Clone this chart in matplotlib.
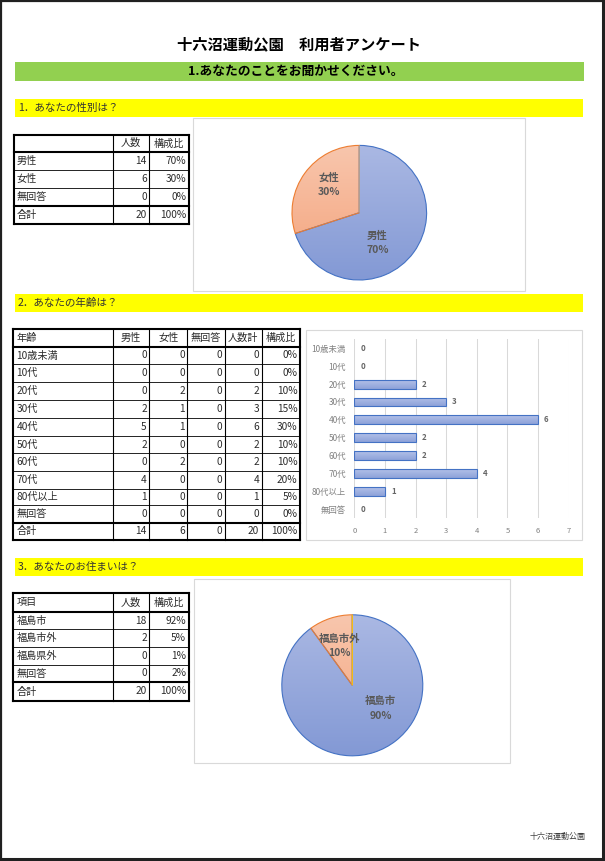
import numpy as np
import matplotlib
matplotlib.use('Agg')
import matplotlib.pyplot as plt
from matplotlib.patches import Rectangle
from matplotlib.colors import to_rgb

plt.rcParams['font.family'] = ['Noto Sans CJK JP', 'DejaVu Sans']

# ---- data ----
title = '十六沼運動公園　利用者アンケート'
section = '1.あなたのことをお聞かせください。'
q1 = '1．あなたの性別は？'
q2 = '2．あなたの年齢は？'
q3 = '3．あなたのお住まいは？'
footer = '十六沼運動公園'

gender_labels = ['男性', '女性', '無回答']
gender_counts = [14, 6, 0]
gender_ratio = ['70%', '30%', '0%']
gender_total = [20, '100%']

age_labels = ['10歳未満', '10代', '20代', '30代', '40代', '50代', '60代', '70代', '80代以上', '無回答']
age_male = [0, 0, 0, 2, 5, 2, 0, 4, 1, 0]
age_female = [0, 0, 2, 1, 1, 0, 2, 0, 0, 0]
age_noans = [0, 0, 0, 0, 0, 0, 0, 0, 0, 0]
age_total = [0, 0, 2, 3, 6, 2, 2, 4, 1, 0]
age_ratio = ['0%', '0%', '10%', '15%', '30%', '10%', '10%', '20%', '5%', '0%']
age_sum = [14, 6, 0, 20, '100%']

home_labels = ['福島市', '福島市外', '福島県外', '無回答']
home_counts = [18, 2, 0, 0]
home_ratio = ['92%', '5%', '1%', '2%']
home_total = [20, '100%']

W, H = 605, 861
TXT = '#2b2b2b'
GRAY_BOX = '#D9D9D9'
BLUE = ('#AAB8E3', '#8399D5', '#4472C4')
ORANGE = ('#F8C6AD', '#F4A27A', '#ED7D31')
GREY = ('#C8C8C8', '#A5A5A5', '#A5A5A5')
GOLD = ('#FFD966', '#FFC000', '#FFC000')

fig = plt.figure(figsize=(W / 100, H / 100), dpi=100)
bg = fig.add_axes([0, 0, 1, 1])
bg.set_xlim(0, W)
bg.set_ylim(H, 0)
bg.axis('off')


def px_axes(x0, y0, x1, y1):
    return fig.add_axes([x0 / W, 1 - y1 / H, (x1 - x0) / W, (y1 - y0) / H])


def vgrad(c_top, c_bot, n=64):
    t = np.linspace(0, 1, n)[:, None]
    a = np.array(to_rgb(c_top))
    b = np.array(to_rgb(c_bot))
    return (a * (1 - t) + b * t)[:, None, :]


def draw_table(xs, ys, rows, head_align, body_align):
    n = len(ys)
    for k, y in enumerate(ys):
        lw = 1.5 if k in (0, 1, n - 2, n - 1) else 0.6
        bg.plot([xs[0], xs[-1]], [y, y], color='black', lw=lw, solid_capstyle='projecting')
    for k, x in enumerate(xs):
        lw = 1.5 if k in (0, len(xs) - 1) else 0.8
        bg.plot([x, x], [ys[0], ys[-1]], color='black', lw=lw, solid_capstyle='projecting')
    for r, row in enumerate(rows):
        yc = (ys[r] + ys[r + 1]) / 2
        aligns = head_align if r == 0 else body_align
        for c, txt in enumerate(row):
            al = aligns[c]
            if al == 'left':
                x = xs[c] + 3
            elif al == 'right':
                x = xs[c + 1] - 2.5
            else:
                x = (xs[c] + xs[c + 1]) / 2
            bg.text(x, yc, str(txt), ha=al, va='center', fontsize=7.3, color=TXT)


def draw_pie(cx, cy, r, counts, styles, labels, label_pos):
    k = 1.03
    pax = px_axes(cx - r * k, cy - r * k, cx + r * k, cy + r * k)
    wedges, _ = pax.pie(counts, startangle=90, counterclock=False, radius=1,
                        wedgeprops=dict(linewidth=0.8))
    for w, (ct, cb, ec) in zip(wedges, styles):
        w.set_facecolor('none')
        w.set_edgecolor(ec)
        im = pax.imshow(vgrad(ct, cb), extent=(-1, 1, -1, 1), aspect='auto',
                        zorder=0.5, interpolation='bilinear')
        im.set_clip_path(w)
    total = sum(counts)
    for name, cnt, pos in zip(labels, counts, label_pos):
        if cnt == 0:
            continue
        pax.text(pos[0], pos[1], f'{name}\n{round(cnt / total * 100)}%', ha='center', va='center',
                 fontsize=7.5, color='#595959', fontweight='bold', linespacing=1.55)
    pax.set_xlim(-k, k)
    pax.set_ylim(-k, k)
    pax.set_aspect('equal')
    pax.axis('off')


# ---- page frame ----
bg.plot([1, 1], [0, H], color='#202020', lw=1.6)
bg.plot([0, W], [1, 1], color='#202020', lw=1.6)
bg.plot([603, 603], [0, H], color='#202020', lw=2.2)
bg.plot([0, W], [859, 859], color='#202020', lw=2.2)

# ---- headings ----
bg.text(299, 44.5, title, ha='center', va='center', fontsize=11, fontweight='bold', color='black')
bg.add_patch(Rectangle((15, 62), 569, 19, color='#92D050', lw=0))
bg.text(296, 71.5, section, ha='center', va='center', fontsize=9.2, fontweight='bold', color='black')

for (y0, y1), q in zip([(99, 116.7), (294, 311.7), (558.3, 575.7)], [q1, q2, q3]):
    bg.add_patch(Rectangle((15, y0), 568, y1 - y0, color='#FFFF00', lw=0))
    bg.text(18, (y0 + y1) / 2, q, ha='left', va='center', fontsize=7.6, color='#333333')

bg.text(586, 836.5, footer, ha='right', va='center', fontsize=5.8, color='#404040')

# ---- table 1 ----
rows1 = [['', '人数', '構成比']]
rows1 += [[lab, cnt, rat] for lab, cnt, rat in zip(gender_labels, gender_counts, gender_ratio)]
rows1 += [['合計'] + gender_total]
draw_table([13.5, 112.7, 149.3, 188.7], [134.5, 152.3, 170, 188, 205.8, 224],
           rows1, ['left', 'center', 'center'], ['left', 'right', 'right'])

# ---- table 2 ----
rows2 = [['年齢', '男性', '女性', '無回答', '人数計', '構成比']]
rows2 += [list(t) for t in zip(age_labels, age_male, age_female, age_noans, age_total, age_ratio)]
rows2 += [['合計'] + age_sum]
draw_table([13.3, 112.7, 149.3, 187.3, 224.7, 261.7, 300],
           [329.3, 346.7, 364.3, 382.3, 400, 417.7, 435.7, 453.3, 471, 488.7, 505.3, 522.5, 540],
           rows2, ['left'] + ['center'] * 5, ['left'] + ['right'] * 5)

# ---- table 3 ----
rows3 = [['項目', '人数', '構成比']]
rows3 += [[lab, cnt, rat] for lab, cnt, rat in zip(home_labels, home_counts, home_ratio)]
rows3 += [['合計'] + home_total]
draw_table([13.3, 112.7, 149.3, 188.7], [593.3, 611.7, 629.3, 647.3, 664.7, 682.3, 700.7],
           rows3, ['left', 'center', 'center'], ['left', 'right', 'right'])

# ---- chart frames ----
bg.add_patch(Rectangle((193, 118), 332, 173, fill=False, ec=GRAY_BOX, lw=0.8))
bg.add_patch(Rectangle((306, 330), 276, 210, fill=False, ec=GRAY_BOX, lw=0.8))
bg.add_patch(Rectangle((194, 579.3), 316, 183.4, fill=False, ec=GRAY_BOX, lw=0.8))

# ---- pie 1 ----
draw_pie(359.3, 212.7, 67.3, gender_counts, [BLUE, ORANGE, GREY], gender_labels,
         [(0.27, -0.45), (-0.45, 0.41), (0, 0)])

# ---- pie 3 ----
draw_pie(352.3, 685.3, 70.5, home_counts, [BLUE, ORANGE, GREY, GOLD], home_labels,
         [(0.40, -0.33), (-0.18, 0.56), (0, 0), (0, 0)])

# ---- bar chart ----
bax = px_axes(354.3, 339.4, 568.7, 518.2)
bax.set_facecolor('none')
yy = np.arange(len(age_labels))
bars = bax.barh(yy, age_total, height=0.5, color='none', edgecolor='#4472C4', linewidth=0.8, zorder=3)
for b, v in zip(bars, age_total):
    if v == 0:
        b.set_linewidth(0)
        continue
    x0, y0, w, h = b.get_x(), b.get_y(), b.get_width(), b.get_height()
    im = bax.imshow(vgrad('#B3C1E8', '#8DA2D9'), extent=(x0, x0 + w, y0 + h, y0),
                    aspect='auto', zorder=2.5, interpolation='bilinear')
    im.set_clip_path(b)
for i, v in enumerate(age_total):
    bax.text(v + 0.27, i, str(v), ha='center', va='center', fontsize=5.7,
             color='#666666', fontweight='bold')
bax.set_xlim(0, 7)
bax.set_ylim(9.5, -0.5)
bax.set_xticks(range(8))
bax.set_yticks(yy, age_labels)
bax.grid(axis='x', color=GRAY_BOX, lw=0.75)
bax.set_axisbelow(True)
for s in bax.spines.values():
    s.set_visible(False)
bax.tick_params(axis='x', length=0, colors='#808080', labelsize=5.5, pad=6)
bax.tick_params(axis='y', length=0, colors='#808080', labelsize=6, pad=6)

fig.savefig('out.png', dpi=100)
